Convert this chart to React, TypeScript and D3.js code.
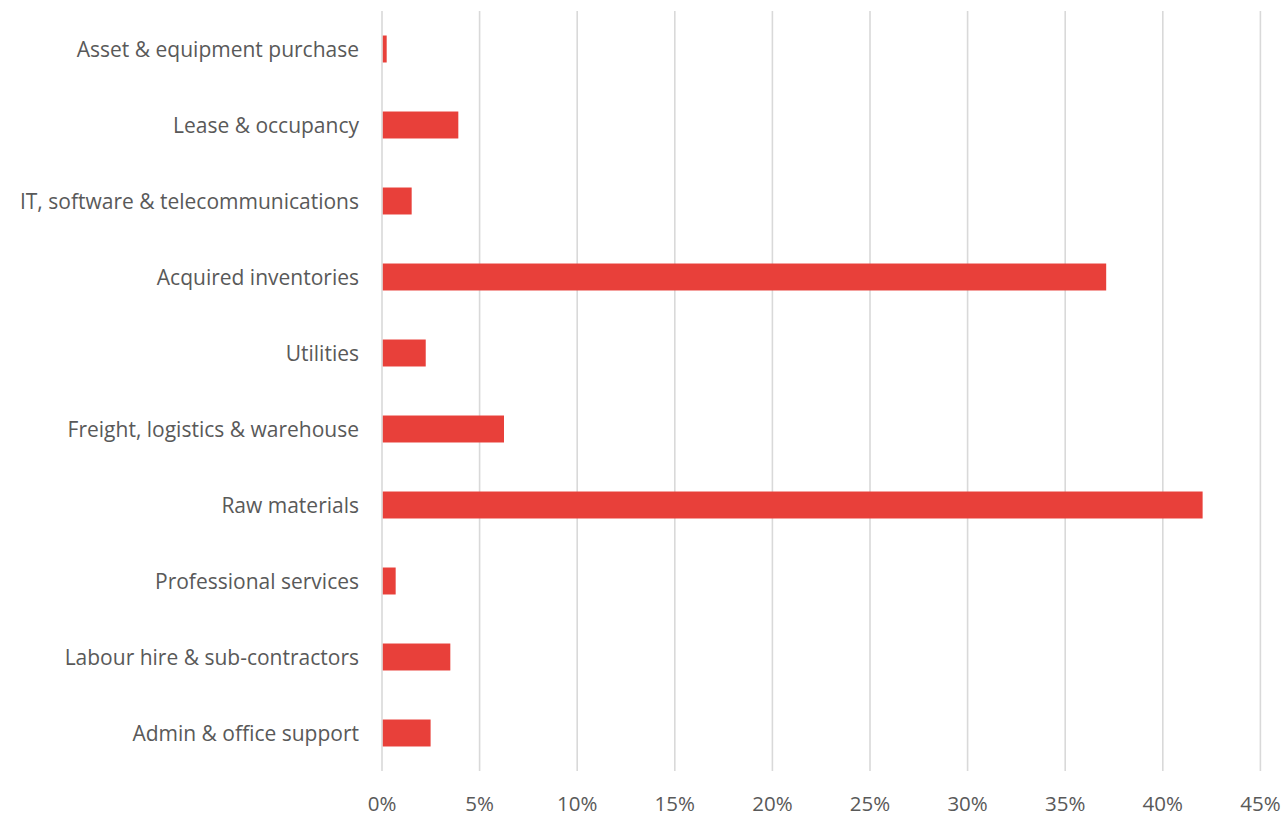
import React, { useLayoutEffect } from "react";
import * as d3 from "d3";

const categories = [
  "Asset & equipment purchase",
  "Lease & occupancy",
  "IT, software & telecommunications",
  "Acquired inventories",
  "Utilities",
  "Freight, logistics & warehouse",
  "Raw materials",
  "Professional services",
  "Labour hire & sub-contractors",
  "Admin & office support",
];
const values = [0.24, 3.91, 1.52, 37.1, 2.24, 6.25, 42.04, 0.7, 3.5, 2.49];
const xTicks = [0, 5, 10, 15, 20, 25, 30, 35, 40, 45];

const W = 1284;
const H = 814;
const left = 382;
const right = 1260.4;
const top = 11;
const bottom = 771;
const font = "'Open Sans', sans-serif";

if (typeof document !== "undefined") {
  document.body.style.margin = "0";
}

export default function App() {
  useLayoutEffect(() => {
    document.body.style.margin = "0";
  }, []);
  const x = d3.scaleLinear().domain([0, 45]).range([left, right]);
  const y = d3
    .scaleBand<string>()
    .domain(categories)
    .range([top, bottom])
    .paddingInner(0.645)
    .paddingOuter(0.3225);
  return (
    <svg
      width={W}
      height={H}
      style={{ display: "block", background: "#fff" }}
    >
      {xTicks.map((t) => (
        <line
          key={t}
          x1={x(t)}
          x2={x(t)}
          y1={top}
          y2={bottom}
          stroke="#d9d9d9"
          strokeWidth={1.6}
        />
      ))}
      {categories.map((c, i) => (
        <rect
          key={c}
          x={x(0) + 0.8}
          y={y(c)!}
          width={x(values[i]) - x(0) - 0.8}
          height={y.bandwidth()}
          fill="#e8403a"
        />
      ))}
      {categories.map((c) => (
        <text
          key={c}
          x={left - 23}
          y={y(c)! + y.bandwidth() / 2}
          textAnchor="end"
          dominantBaseline="central"
          fontFamily={font}
          fontSize={21}
          fill="#595959"
        >
          {c}
        </text>
      ))}
      {xTicks.map((t) => (
        <text
          key={t}
          x={x(t)}
          y={802.5}
          textAnchor="middle"
          dominantBaseline="central"
          fontFamily={font}
          fontSize={20.5}
          fill="#595959"
        >
          {t}%
        </text>
      ))}
    </svg>
  );
}
